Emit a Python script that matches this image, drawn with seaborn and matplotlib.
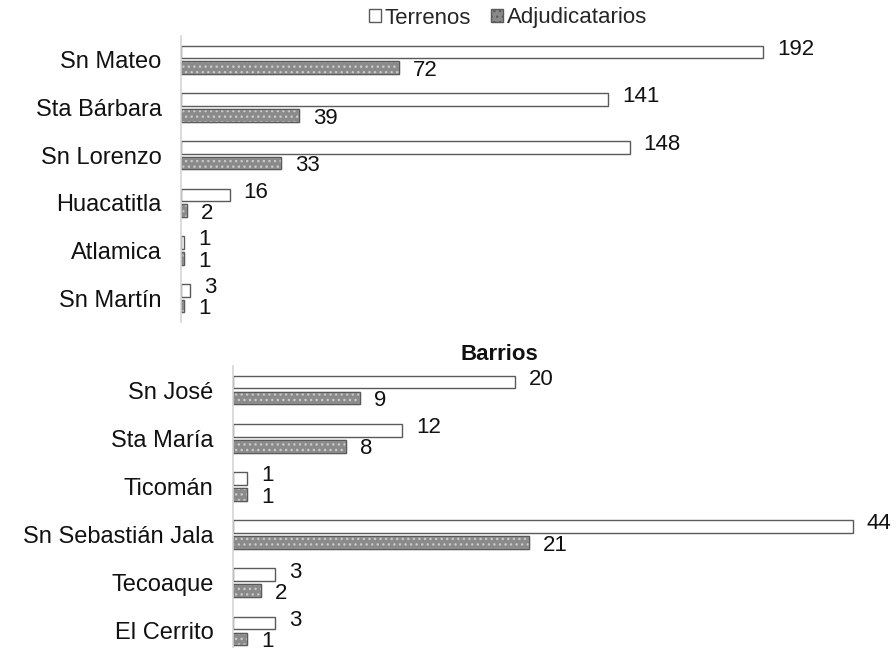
import matplotlib
matplotlib.use("Agg")
import matplotlib.pyplot as plt
from matplotlib.patches import Rectangle
import pandas as pd
import seaborn as sns

pueblos = ["Sn Mateo", "Sta Bárbara", "Sn Lorenzo", "Huacatitla", "Atlamica", "Sn Martín"]
pueblos_terrenos = [192, 141, 148, 16, 1, 3]
pueblos_adjud = [72, 39, 33, 2, 1, 1]

barrios = ["Sn José", "Sta María", "Ticomán", "Sn Sebastián Jala", "Tecoaque", "El Cerrito"]
barrios_terrenos = [20, 12, 1, 44, 3, 3]
barrios_adjud = [9, 8, 1, 21, 2, 1]

series = ["Terrenos", "Adjudicatarios"]


def long_frame(cats, terr, adj):
    rows = [{"lugar": c, "serie": series[0], "valor": v} for c, v in zip(cats, terr)]
    rows += [{"lugar": c, "serie": series[1], "valor": v} for c, v in zip(cats, adj)]
    return pd.DataFrame(rows)


sns.set_theme(style="white")
plt.rcParams.update({"font.family": ["Liberation Sans", "DejaVu Sans"]})

W, H = 896, 648
fig = plt.figure(figsize=(W / 100, H / 100), dpi=100)
ax_top = fig.add_axes([181 / W, 1 - 322 / H, 667 / W, 286 / H])
ax_bot = fig.add_axes([233 / W, 1 - 655 / H, 648 / W, 289 / H])

edge = "#5a5a5a"
for ax, cats, terr, adj, xmax in [
    (ax_top, pueblos, pueblos_terrenos, pueblos_adjud, 220),
    (ax_bot, barrios, barrios_terrenos, barrios_adjud, 46),
]:
    df = long_frame(cats, terr, adj)
    sns.barplot(data=df, y="lugar", x="valor", hue="serie", hue_order=series,
                palette=["white", "#8a8a8a"], width=0.66, gap=0.2,
                edgecolor=edge, linewidth=1.0, ax=ax, legend=False)
    for p in ax.containers[1]:
        p.set_hatch("...")
        p.set_edgecolor("#c9c9c9")
        ax.add_patch(Rectangle(p.get_xy(), p.get_width(), p.get_height(),
                               fill=False, ec=edge, lw=1.0, zorder=p.get_zorder() + 0.1))
    for cont, dy in zip(ax.containers, [2, -2]):
        for t in ax.bar_label(cont, padding=10, fontsize=16, color="#111111"):
            t.xyann = (10, dy)
    ax.set_xlim(0, xmax)
    ax.set_xlabel("")
    ax.set_ylabel("")
    ax.set_xticks([])
    ax.tick_params(axis="y", length=0, labelsize=17, pad=14, colors="#111111")
    for s in ["top", "right", "bottom"]:
        ax.spines[s].set_visible(False)
    ax.spines["left"].set_color("#d6d6d6")
    ax.spines["left"].set_linewidth(1.2)

fig.text(499 / W, 1 - 355 / H, "Barrios", ha="center", va="center",
         fontsize=16, fontweight="bold", color="#111111")

handles = [
    Rectangle((0, 0), 1, 1, fc="white", ec=edge, lw=1.0),
    Rectangle((0, 0), 1, 1, fc="#8a8a8a", ec=edge, lw=1.0, hatch="..."),
]
fig.legend(handles, series, loc="center", bbox_to_anchor=(508 / W, 1 - 18 / H), ncol=2,
           frameon=False, fontsize=16, handlelength=0.55, handleheight=0.55,
           handletextpad=0.15, columnspacing=0.9, borderpad=0.2)

fig.savefig("out.png", dpi=100)
